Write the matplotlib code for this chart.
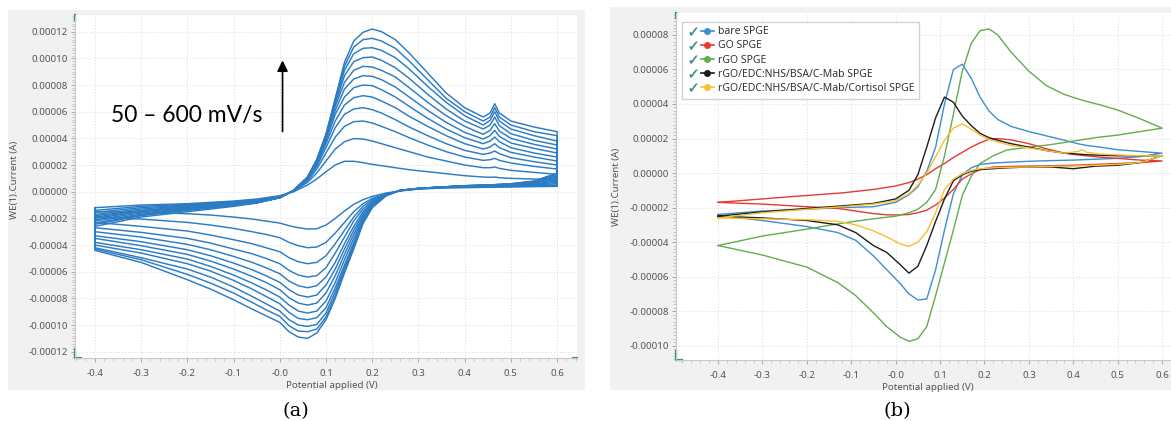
import numpy as np
import matplotlib.pyplot as plt
from matplotlib.patches import Rectangle
from matplotlib.lines import Line2D
from matplotlib.legend_handler import HandlerTuple
from matplotlib.ticker import AutoMinorLocator, FormatStrFormatter, FuncFormatter

plt.rcParams['font.family'] = ['Noto Sans', 'DejaVu Sans']

########################################

# Data, currents in units of 1e-5 A

# (a) scan rates 50 - 600 mV/s, one CV loop per rate
scan_rates = [50, 100, 150, 200, 250, 300, 350, 400, 450, 500, 550, 600]

a_fwd_v = [-0.40, -0.30, -0.20, -0.10, -0.05, 0.00, 0.03, 0.06, 0.08, 0.10, 0.12, 0.14, 0.16, 0.18,
           0.20, 0.22, 0.25, 0.28, 0.32, 0.36, 0.40, 0.44, 0.455, 0.465, 0.475, 0.50, 0.55, 0.60]
a_rev_v = [0.60, 0.55, 0.50, 0.45, 0.40, 0.35, 0.30, 0.26, 0.23, 0.20, 0.18, 0.16, 0.14, 0.12,
           0.10, 0.08, 0.06, 0.04, 0.02, 0.00, -0.03, -0.06, -0.10, -0.15, -0.20, -0.30, -0.40]

a_fwd_i = [
    [-1.2, -1.0, -0.9, -0.7, -0.55, -0.3, 0.0, 0.5, 0.95, 1.5, 2.0, 2.28, 2.28, 2.18, 2.05, 1.95, 1.8, 1.65, 1.5, 1.35, 1.2, 1.1, 1.08, 1.1, 1.05, 1.0, 0.95, 0.9],
    [-1.4, -1.1, -0.95, -0.75, -0.6, -0.35, 0.05, 0.7, 1.4, 2.3, 3.2, 3.75, 3.98, 3.95, 3.8, 3.6, 3.3, 3.0, 2.6, 2.3, 2.0, 1.8, 1.8, 1.85, 1.75, 1.6, 1.45, 1.3],
    [-1.55, -1.2, -1.0, -0.8, -0.65, -0.4, 0.05, 0.8, 1.7, 2.9, 4.1, 4.9, 5.25, 5.3, 5.15, 4.9, 4.5, 4.05, 3.5, 3.0, 2.6, 2.35, 2.4, 2.5, 2.35, 2.15, 1.9, 1.7],
    [-1.7, -1.3, -1.05, -0.85, -0.7, -0.4, 0.08, 0.9, 1.9, 3.3, 4.8, 5.8, 6.2, 6.3, 6.15, 5.9, 5.4, 4.85, 4.2, 3.6, 3.1, 2.8, 2.9, 3.05, 2.85, 2.55, 2.25, 2.0],
    [-1.8, -1.4, -1.1, -0.9, -0.72, -0.45, 0.08, 0.95, 2.05, 3.6, 5.3, 6.5, 7.05, 7.2, 7.1, 6.8, 6.3, 5.65, 4.9, 4.2, 3.6, 3.2, 3.35, 3.6, 3.3, 2.95, 2.6, 2.3],
    [-1.9, -1.45, -1.15, -0.9, -0.75, -0.45, 0.09, 1.0, 2.15, 3.8, 5.8, 7.1, 7.8, 8.0, 7.95, 7.65, 7.1, 6.4, 5.5, 4.7, 4.05, 3.6, 3.8, 4.1, 3.75, 3.3, 2.9, 2.6],
    [-2.0, -1.5, -1.2, -0.95, -0.78, -0.45, 0.09, 1.0, 2.2, 4.0, 6.1, 7.7, 8.45, 8.7, 8.65, 8.4, 7.85, 7.1, 6.1, 5.2, 4.45, 3.95, 4.2, 4.6, 4.15, 3.65, 3.25, 2.9],
    [-2.1, -1.6, -1.25, -0.95, -0.8, -0.45, 0.1, 1.05, 2.25, 4.1, 6.4, 8.2, 9.1, 9.4, 9.35, 9.1, 8.6, 7.8, 6.7, 5.7, 4.9, 4.3, 4.6, 5.1, 4.55, 4.0, 3.55, 3.2],
    [-2.2, -1.7, -1.3, -1.0, -0.82, -0.45, 0.1, 1.05, 2.3, 4.2, 6.6, 8.7, 9.75, 10.05, 10.1, 9.85, 9.3, 8.5, 7.3, 6.2, 5.3, 4.7, 5.0, 5.6, 4.95, 4.35, 3.85, 3.5],
    [-2.35, -1.75, -1.35, -1.0, -0.83, -0.45, 0.1, 1.1, 2.35, 4.25, 6.8, 9.1, 10.35, 10.75, 10.8, 10.6, 10.05, 9.2, 7.9, 6.7, 5.7, 5.0, 5.35, 6.0, 5.3, 4.7, 4.2, 3.8],
    [-2.45, -1.8, -1.4, -1.05, -0.84, -0.45, 0.1, 1.1, 2.4, 4.3, 6.9, 9.4, 10.85, 11.4, 11.5, 11.3, 10.75, 9.8, 8.4, 7.0, 6.0, 5.3, 5.6, 6.3, 5.6, 5.0, 4.5, 4.2],
    [-2.6, -1.9, -1.5, -1.1, -0.85, -0.45, 0.1, 1.1, 2.4, 4.3, 7.0, 9.7, 11.3, 11.95, 12.2, 12.0, 11.4, 10.4, 8.9, 7.4, 6.3, 5.6, 5.9, 6.6, 5.9, 5.3, 4.85, 4.5],
]

a_rev_i = [
    [0.4, 0.38, 0.35, 0.33, 0.3, 0.27, 0.2, 0.05, -0.1, -0.35, -0.6, -0.95, -1.45, -2.0, -2.5, -2.78, -2.8, -2.7, -2.55, -2.35, -2.2, -2.05, -1.9, -1.75, -1.65, -1.55, -1.5],
    [0.45, 0.42, 0.4, 0.37, 0.35, 0.3, 0.22, 0.07, -0.15, -0.5, -0.9, -1.5, -2.3, -3.1, -3.8, -4.15, -4.2, -4.05, -3.8, -3.45, -3.2, -3.0, -2.75, -2.5, -2.3, -2.05, -1.9],
    [0.5, 0.45, 0.42, 0.4, 0.37, 0.3, 0.22, 0.07, -0.17, -0.6, -1.1, -1.9, -2.9, -3.9, -4.8, -5.3, -5.4, -5.25, -4.95, -4.5, -4.2, -3.9, -3.6, -3.25, -2.95, -2.6, -2.3],
    [0.6, 0.5, 0.45, 0.42, 0.4, 0.32, 0.23, 0.08, -0.2, -0.7, -1.3, -2.2, -3.4, -4.6, -5.7, -6.3, -6.4, -6.25, -5.9, -5.4, -5.0, -4.65, -4.3, -3.85, -3.5, -3.05, -2.7],
    [0.7, 0.55, 0.48, 0.44, 0.4, 0.33, 0.23, 0.08, -0.22, -0.8, -1.5, -2.6, -3.9, -5.3, -6.4, -7.05, -7.2, -7.05, -6.7, -6.15, -5.7, -5.3, -4.85, -4.35, -3.95, -3.4, -3.0],
    [0.8, 0.6, 0.5, 0.45, 0.42, 0.34, 0.24, 0.09, -0.24, -0.85, -1.65, -2.9, -4.3, -5.8, -7.0, -7.75, -7.9, -7.75, -7.35, -6.8, -6.3, -5.85, -5.35, -4.8, -4.35, -3.75, -3.3],
    [0.9, 0.65, 0.53, 0.47, 0.43, 0.34, 0.24, 0.09, -0.26, -0.95, -1.8, -3.2, -4.7, -6.3, -7.6, -8.35, -8.5, -8.35, -7.95, -7.35, -6.8, -6.35, -5.8, -5.2, -4.7, -4.05, -3.5],
    [1.0, 0.7, 0.55, 0.48, 0.44, 0.35, 0.25, 0.1, -0.27, -1.0, -1.95, -3.5, -5.1, -6.8, -8.2, -8.95, -9.1, -8.95, -8.5, -7.9, -7.35, -6.85, -6.25, -5.6, -5.05, -4.35, -3.8],
    [1.1, 0.72, 0.57, 0.49, 0.44, 0.35, 0.25, 0.1, -0.28, -1.05, -2.1, -3.8, -5.5, -7.2, -8.7, -9.45, -9.6, -9.5, -9.05, -8.4, -7.85, -7.3, -6.65, -5.95, -5.4, -4.6, -4.0],
    [1.2, 0.75, 0.58, 0.5, 0.45, 0.35, 0.25, 0.1, -0.29, -1.1, -2.2, -4.0, -5.7, -7.5, -9.1, -9.95, -10.1, -10.0, -9.6, -8.95, -8.4, -7.85, -7.15, -6.4, -5.8, -4.95, -4.2],
    [1.3, 0.78, 0.59, 0.5, 0.45, 0.35, 0.25, 0.1, -0.3, -1.15, -2.3, -4.15, -5.9, -7.8, -9.4, -10.3, -10.5, -10.45, -10.05, -9.35, -8.85, -8.3, -7.6, -6.85, -6.2, -5.1, -4.3],
    [1.4, 0.8, 0.6, 0.5, 0.45, 0.35, 0.25, 0.1, -0.3, -1.2, -2.4, -4.3, -6.1, -8.0, -9.6, -10.6, -11.0, -10.9, -10.5, -9.8, -9.3, -8.8, -8.1, -7.3, -6.6, -5.3, -4.4],
]

# (b) modified electrodes
b_labels = ["bare SPGE", "GO SPGE", "rGO SPGE", "rGO/EDC:NHS/BSA/C-Mab SPGE",
            "rGO/EDC:NHS/BSA/C-Mab/Cortisol SPGE"]
b_colors = ["#3a8fd2", "#e53a33", "#62ad4c", "#1c1c1c", "#f7c02e"]

b_fwd_v = [-0.40, -0.30, -0.20, -0.12, -0.05, 0.00, 0.03, 0.05, 0.07, 0.09, 0.11, 0.13, 0.15, 0.17,
           0.19, 0.21, 0.23, 0.26, 0.30, 0.34, 0.38, 0.41, 0.42, 0.43, 0.46, 0.50, 0.55, 0.60]
b_rev_v = [0.60, 0.55, 0.50, 0.45, 0.40, 0.35, 0.30, 0.25, 0.22, 0.19, 0.17, 0.15, 0.13,
           0.11, 0.09, 0.07, 0.05, 0.03, 0.01, -0.02, -0.05, -0.09, -0.13, -0.20, -0.30, -0.40]

bare_fwd = [-2.4, -2.2, -2.1, -2.0, -1.95, -1.7, -1.25, -0.8, 0.1, 1.5, 4.0, 6.0, 6.3, 5.5, 4.4, 3.6, 3.1, 2.7, 2.4, 2.15, 1.9, 1.7, 1.65, 1.6, 1.5, 1.35, 1.25, 1.15]
go_fwd = [-1.7, -1.5, -1.3, -1.15, -0.95, -0.75, -0.55, -0.35, -0.1, 0.25, 0.55, 0.9, 1.2, 1.5, 1.75, 1.95, 2.0, 1.92, 1.7, 1.4, 1.15, 1.05, 1.02, 1.0, 0.92, 0.85, 0.75, 0.7]
rgo_fwd = [-4.2, -3.65, -3.25, -2.9, -2.65, -2.5, -2.3, -2.1, -1.7, -0.95, 1.0, 3.4, 5.9, 7.5, 8.25, 8.35, 8.0, 7.0, 5.9, 5.05, 4.55, 4.3, 4.22, 4.15, 3.95, 3.65, 3.15, 2.6]
mab_fwd = [-2.5, -2.25, -2.05, -1.9, -1.76, -1.5, -1.0, -0.1, 1.5, 3.2, 4.4, 4.1, 3.3, 2.75, 2.3, 2.05, 1.9, 1.7, 1.5, 1.3, 1.15, 1.1, 1.08, 1.06, 1.03, 1.0, 1.0, 1.0]
cort_fwd = [-2.6, -2.3, -2.1, -1.95, -1.8, -1.6, -1.2, -0.7, 0.0, 0.95, 1.9, 2.6, 2.85, 2.55, 2.2, 1.95, 1.8, 1.6, 1.45, 1.3, 1.15, 1.25, 1.35, 1.2, 1.1, 1.05, 1.0, 1.0]

bare_rev = [1.15, 0.95, 0.85, 0.8, 0.75, 0.72, 0.68, 0.62, 0.58, 0.5, 0.3, -0.1, -1.2, -3.3, -5.6, -7.3, -7.35, -7.0, -6.4, -5.6, -4.8, -3.9, -3.45, -3.1, -2.75, -2.45]
go_rev = [0.7, 0.6, 0.55, 0.5, 0.45, 0.42, 0.4, 0.38, 0.35, 0.2, -0.05, -0.35, -0.95, -1.45, -1.85, -2.15, -2.3, -2.4, -2.43, -2.42, -2.35, -2.2, -2.05, -1.95, -1.8, -1.7]
rgo_rev = [2.6, 2.4, 2.2, 2.05, 1.85, 1.65, 1.5, 1.33, 1.0, 0.55, -0.2, -1.3, -3.3, -5.2, -7.1, -8.9, -9.6, -9.75, -9.5, -8.9, -8.1, -7.1, -6.35, -5.45, -4.75, -4.2]
mab_rev = [1.0, 0.6, 0.45, 0.4, 0.25, 0.35, 0.35, 0.3, 0.25, 0.2, 0.1, -0.1, -0.45, -1.5, -2.8, -4.2, -5.4, -5.8, -5.3, -4.6, -4.2, -3.45, -3.0, -2.75, -2.6, -2.5]
cort_rev = [1.0, 0.6, 0.5, 0.45, 0.4, 0.38, 0.35, 0.33, 0.3, 0.25, 0.15, -0.05, -0.35, -0.95, -2.3, -3.4, -4.0, -4.25, -4.1, -3.7, -3.35, -3.0, -2.8, -2.7, -2.65, -2.6]

b_fwd_i = [bare_fwd, go_fwd, rgo_fwd, mab_fwd, cort_fwd]
b_rev_i = [bare_rev, go_rev, rgo_rev, mab_rev, cort_rev]

########################################

# Styling

W, H = 1171, 421
frame_gray = "#f1f1f1"
teal = "#2f8f86"
tick_gray = "#555555"
a_blue = "#2c7cc4"

def y_fmt(val, pos):
    if abs(val) < 1e-12:
        val = 0.0
    return f"{val:.5f}"

def style_axes(ax, y_lo, y_hi):
    ax.set_zorder(2)
    for side in ["top", "right"]:
        ax.spines[side].set_visible(False)
    for side in ["left", "bottom"]:
        ax.spines[side].set_color("#c9c9c9")
        ax.spines[side].set_linewidth(0.8)
    ax.set_xticks(np.arange(-0.4, 0.61, 0.1))
    ax.set_yticks(np.arange(y_lo, y_hi + 1e-7, 2e-5))
    ax.xaxis.set_major_formatter(FormatStrFormatter("%.1f"))
    ax.yaxis.set_major_formatter(FuncFormatter(y_fmt))
    ax.xaxis.set_minor_locator(AutoMinorLocator(5))
    ax.yaxis.set_minor_locator(AutoMinorLocator(10))
    ax.tick_params(axis="both", which="major", labelsize=7, labelcolor=tick_gray,
                   color="#9a9a9a", length=3, width=0.6)
    ax.tick_params(axis="both", which="minor", color="#b5b5b5", length=2, width=0.5)
    ax.tick_params(axis="x", which="major", pad=5)
    ax.tick_params(axis="y", which="major", pad=2)
    ax.grid(True, which="major", linestyle=(0, (1, 2)), color="#d9d9d9", linewidth=0.7)
    ax.set_axisbelow(True)
    # little teal corner marks of the plotting software
    ax.plot([0, 0, 0.012], [0.025, 0, 0], color=teal, lw=1.6, transform=ax.transAxes, clip_on=False)
    ax.plot([0, 0], [0.985, 1.0], color=teal, lw=1.6, transform=ax.transAxes, clip_on=False)

########################################

fig = plt.figure(figsize=(W / 100, H / 100), dpi=100)

fig.patches.append(Rectangle((8 / W, 31 / H), 577 / W, 380 / H, transform=fig.transFigure,
                             facecolor=frame_gray, edgecolor="none", zorder=-1))
fig.patches.append(Rectangle((610 / W, 31 / H), 561 / W, 383 / H, transform=fig.transFigure,
                             facecolor=frame_gray, edgecolor="none", zorder=-1))

# Panel (a)
ax_a = fig.add_axes([75 / W, 63 / H, 502 / W, 343 / H])
style_axes(ax_a, -1.2e-4, 1.2e-4)

for fwd, rev in zip(a_fwd_i, a_rev_i):
    v = a_fwd_v + a_rev_v + [a_fwd_v[0]]
    i = np.array(fwd + rev + [fwd[0]]) * 1e-5
    ax_a.plot(v, i, color=a_blue, lw=1.05)

ax_a.set_xlim(-0.443, 0.643)
ax_a.set_ylim(-1.247e-4, 1.325e-4)
ax_a.plot([0.993, 1.0], [0, 0], color=teal, lw=1.6, transform=ax_a.transAxes, clip_on=False)

ax_a.annotate("", xy=(0.006, 1.005e-4), xytext=(0.006, 4.3e-5),
              arrowprops=dict(arrowstyle="-|>", color="black", lw=1.2, mutation_scale=16))
ax_a.text(-0.365, 5.7e-5, "50 – 600 mV/s", fontsize=16.5, family="Lato", va="center", ha="left")

ax_a.set_xlabel("Potential applied (V)", fontsize=7, color=tick_gray)
ax_a.xaxis.set_label_coords(0.512, -0.066)
fig.text(15 / W, 1 - 180 / H, "WE(1).Current (A)", rotation=90, ha="center", va="center",
         fontsize=7, color=tick_gray)

# Panel (b)
ax_b = fig.add_axes([676 / W, 61 / H, 495 / W, 347 / H])
style_axes(ax_b, -1.0e-4, 0.8e-4)

for fwd, rev, c in zip(b_fwd_i, b_rev_i, b_colors):
    v = b_fwd_v + b_rev_v + [b_fwd_v[0]]
    i = np.array(fwd + rev + [fwd[0]]) * 1e-5
    ax_b.plot(v, i, color=c, lw=1.0)

ax_b.set_xlim(-0.4946, 0.62)
ax_b.set_ylim(-1.083e-4, 0.927e-4)

handles = [(Line2D([], [], ls="none", marker=r"$\checkmark$", color=teal, markersize=5.5,
                   markeredgewidth=0.3),
            Line2D([], [], color=c, marker="o", markersize=4, lw=1.2)) for c in b_colors]
leg = ax_b.legend(handles, b_labels, loc="upper left", bbox_to_anchor=(0.012, 0.975),
                  borderaxespad=0, fontsize=7.5, labelspacing=0.3, handlelength=2.6,
                  handletextpad=0.4, borderpad=0.45, frameon=True, fancybox=False,
                  framealpha=1, edgecolor="#d3d3d3",
                  handler_map={tuple: HandlerTuple(ndivide=None, pad=0.2)})
for t in leg.get_texts():
    t.set_color("#333333")

ax_b.set_xlabel("Potential applied (V)", fontsize=7, color=tick_gray)
ax_b.xaxis.set_label_coords(0.509, -0.066)
fig.text(616 / W, 1 - 187 / H, "WE(1).Current (A)", rotation=90, ha="center", va="center",
         fontsize=7, color=tick_gray)

# Captions
fig.text(296 / W, 1 - 411 / H, "(a)", ha="center", va="center", fontsize=14, family="DejaVu Serif")
fig.text(897 / W, 1 - 411 / H, "(b)", ha="center", va="center", fontsize=14, family="DejaVu Serif")

plt.savefig("out.png", dpi=100)
plt.close()
